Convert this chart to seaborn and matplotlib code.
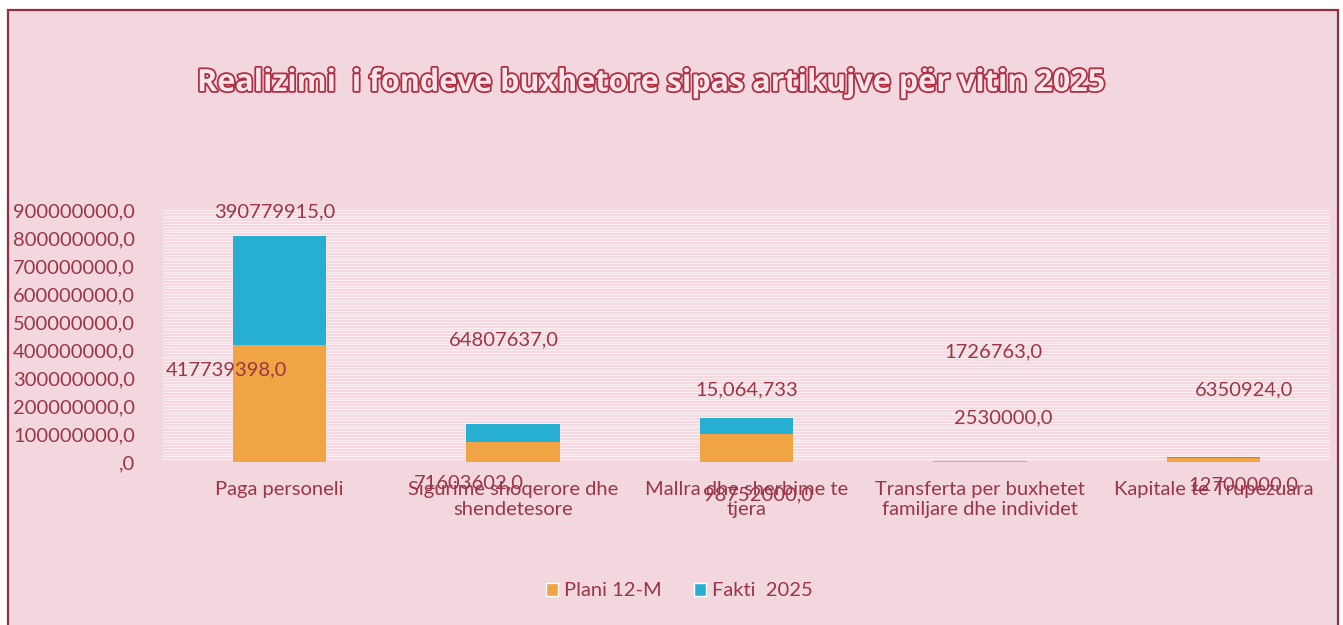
import matplotlib
matplotlib.use("Agg")
import matplotlib.pyplot as plt
import matplotlib.patheffects as pe
from matplotlib.patches import Rectangle, Patch
from matplotlib.ticker import FuncFormatter, MultipleLocator
import seaborn as sns
import pandas as pd

# ---- data ----
categories = ["Paga personeli",
              "Sigurime shoqerore dhe\nshendetesore",
              "Mallra dhe sherbime te\ntjera",
              "Transferta per buxhetet\nfamiljare dhe individet",
              "Kapitale te Trupezuara"]
plani = [417739398, 71603602, 98752000, 2530000, 12700000]
fakti = [390779915, 64807637, 58000000, 1726763, 6350924]
plani_labels = ["417739398,0", "71603602,0", "98752000,0", "2530000,0", "12700000,0"]
fakti_labels = ["390779915,0", "64807637,0", "15,064,733", "1726763,0", "6350924,0"]
series_names = ["Plani 12-M", "Fakti  2025"]
title = "Realizimi  i fondeve buxhetore sipas artikujve për vitin 2025"

# ---- layout (label anchors, data coords as placed in the original) ----
plani_lab_pos = [(-0.23, 329e6), (0.81, -75e6), (2.05, -118e6), (3.10, 157e6), (4.13, -82e6)]
fakti_lab_pos = [(-0.02, 893e6), (0.96, 436e6), (2.00, 257e6), (3.06, 393e6), (4.13, 257e6)]

BG = "#f3d7df"
TXT = "#9a3646"
ORANGE = "#f0a443"
BLUE = "#27afd2"
FS = 14.5

sns.set_theme(style="white")
plt.rcParams["font.family"] = ["Lato", "DejaVu Sans"]

W, H = 1343, 625
fig = plt.figure(figsize=(W / 100, H / 100), dpi=100, facecolor="white")
fig.patches.append(Rectangle((8 / W, -0.01), (1338 - 8) / W, 1 - 10 / H + 0.01,
                             transform=fig.transFigure, facecolor=BG,
                             edgecolor="#8e3040", linewidth=1.6, zorder=-10))

ax = fig.add_axes([163 / W, (H - 462) / H, (1330 - 163) / W, 252 / H])
ax.set_facecolor(BG)

df = pd.DataFrame({"cat": categories, "plani": plani, "fakti": fakti})
df["total"] = df["plani"] + df["fakti"]

sns.barplot(data=df, x="cat", y="total", color=BLUE, width=0.4, saturation=1,
            linewidth=0, ax=ax, zorder=3)
sns.barplot(data=df, x="cat", y="plani", color=ORANGE, width=0.4, saturation=1,
            linewidth=0, ax=ax, zorder=4)

ax.set_xlim(-0.5, 4.5)
ax.set_ylim(0, 900e6)
ax.yaxis.set_major_locator(MultipleLocator(100e6))
ax.yaxis.set_minor_locator(MultipleLocator(10e6))
ax.grid(True, which="both", axis="y", color="#fbedf1", linewidth=0.9, zorder=1)
ax.set_axisbelow(True)
ax.yaxis.set_major_formatter(FuncFormatter(lambda v, p: ",0" if v == 0 else f"{int(round(v))},0"))
for s in ax.spines.values():
    s.set_visible(False)
ax.tick_params(axis="y", which="both", length=0, pad=20, labelsize=FS, labelcolor=TXT)
ax.tick_params(axis="x", length=0, pad=14, labelsize=FS, labelcolor=TXT)
ax.set_xlabel("")
ax.set_ylabel("")

for (x, y), t in zip(plani_lab_pos, plani_labels):
    ax.text(x, y, t, ha="center", va="center", fontsize=FS, color=TXT, clip_on=False, zorder=6)
for (x, y), t in zip(fakti_lab_pos, fakti_labels):
    ax.text(x, y, t, ha="center", va="center", fontsize=FS, color=TXT, clip_on=False, zorder=6)

fig.text(650 / W, 1 - 83 / H, title, ha="center", va="center", fontsize=22,
         fontweight="bold", color="#fbe6ec", family=["Open Sans", "DejaVu Sans"],
         path_effects=[pe.withStroke(linewidth=2.6, foreground="#b02f42")])

handles = [Patch(facecolor=ORANGE), Patch(facecolor=BLUE)]
fig.legend(handles, series_names, loc="center", bbox_to_anchor=(679 / W, 1 - 591 / H),
           ncol=2, frameon=False, fontsize=FS, labelcolor=TXT,
           handlelength=0.6, handleheight=0.6, handletextpad=0.3, columnspacing=1.6)

fig.savefig("out.png", dpi=100, facecolor="white")
